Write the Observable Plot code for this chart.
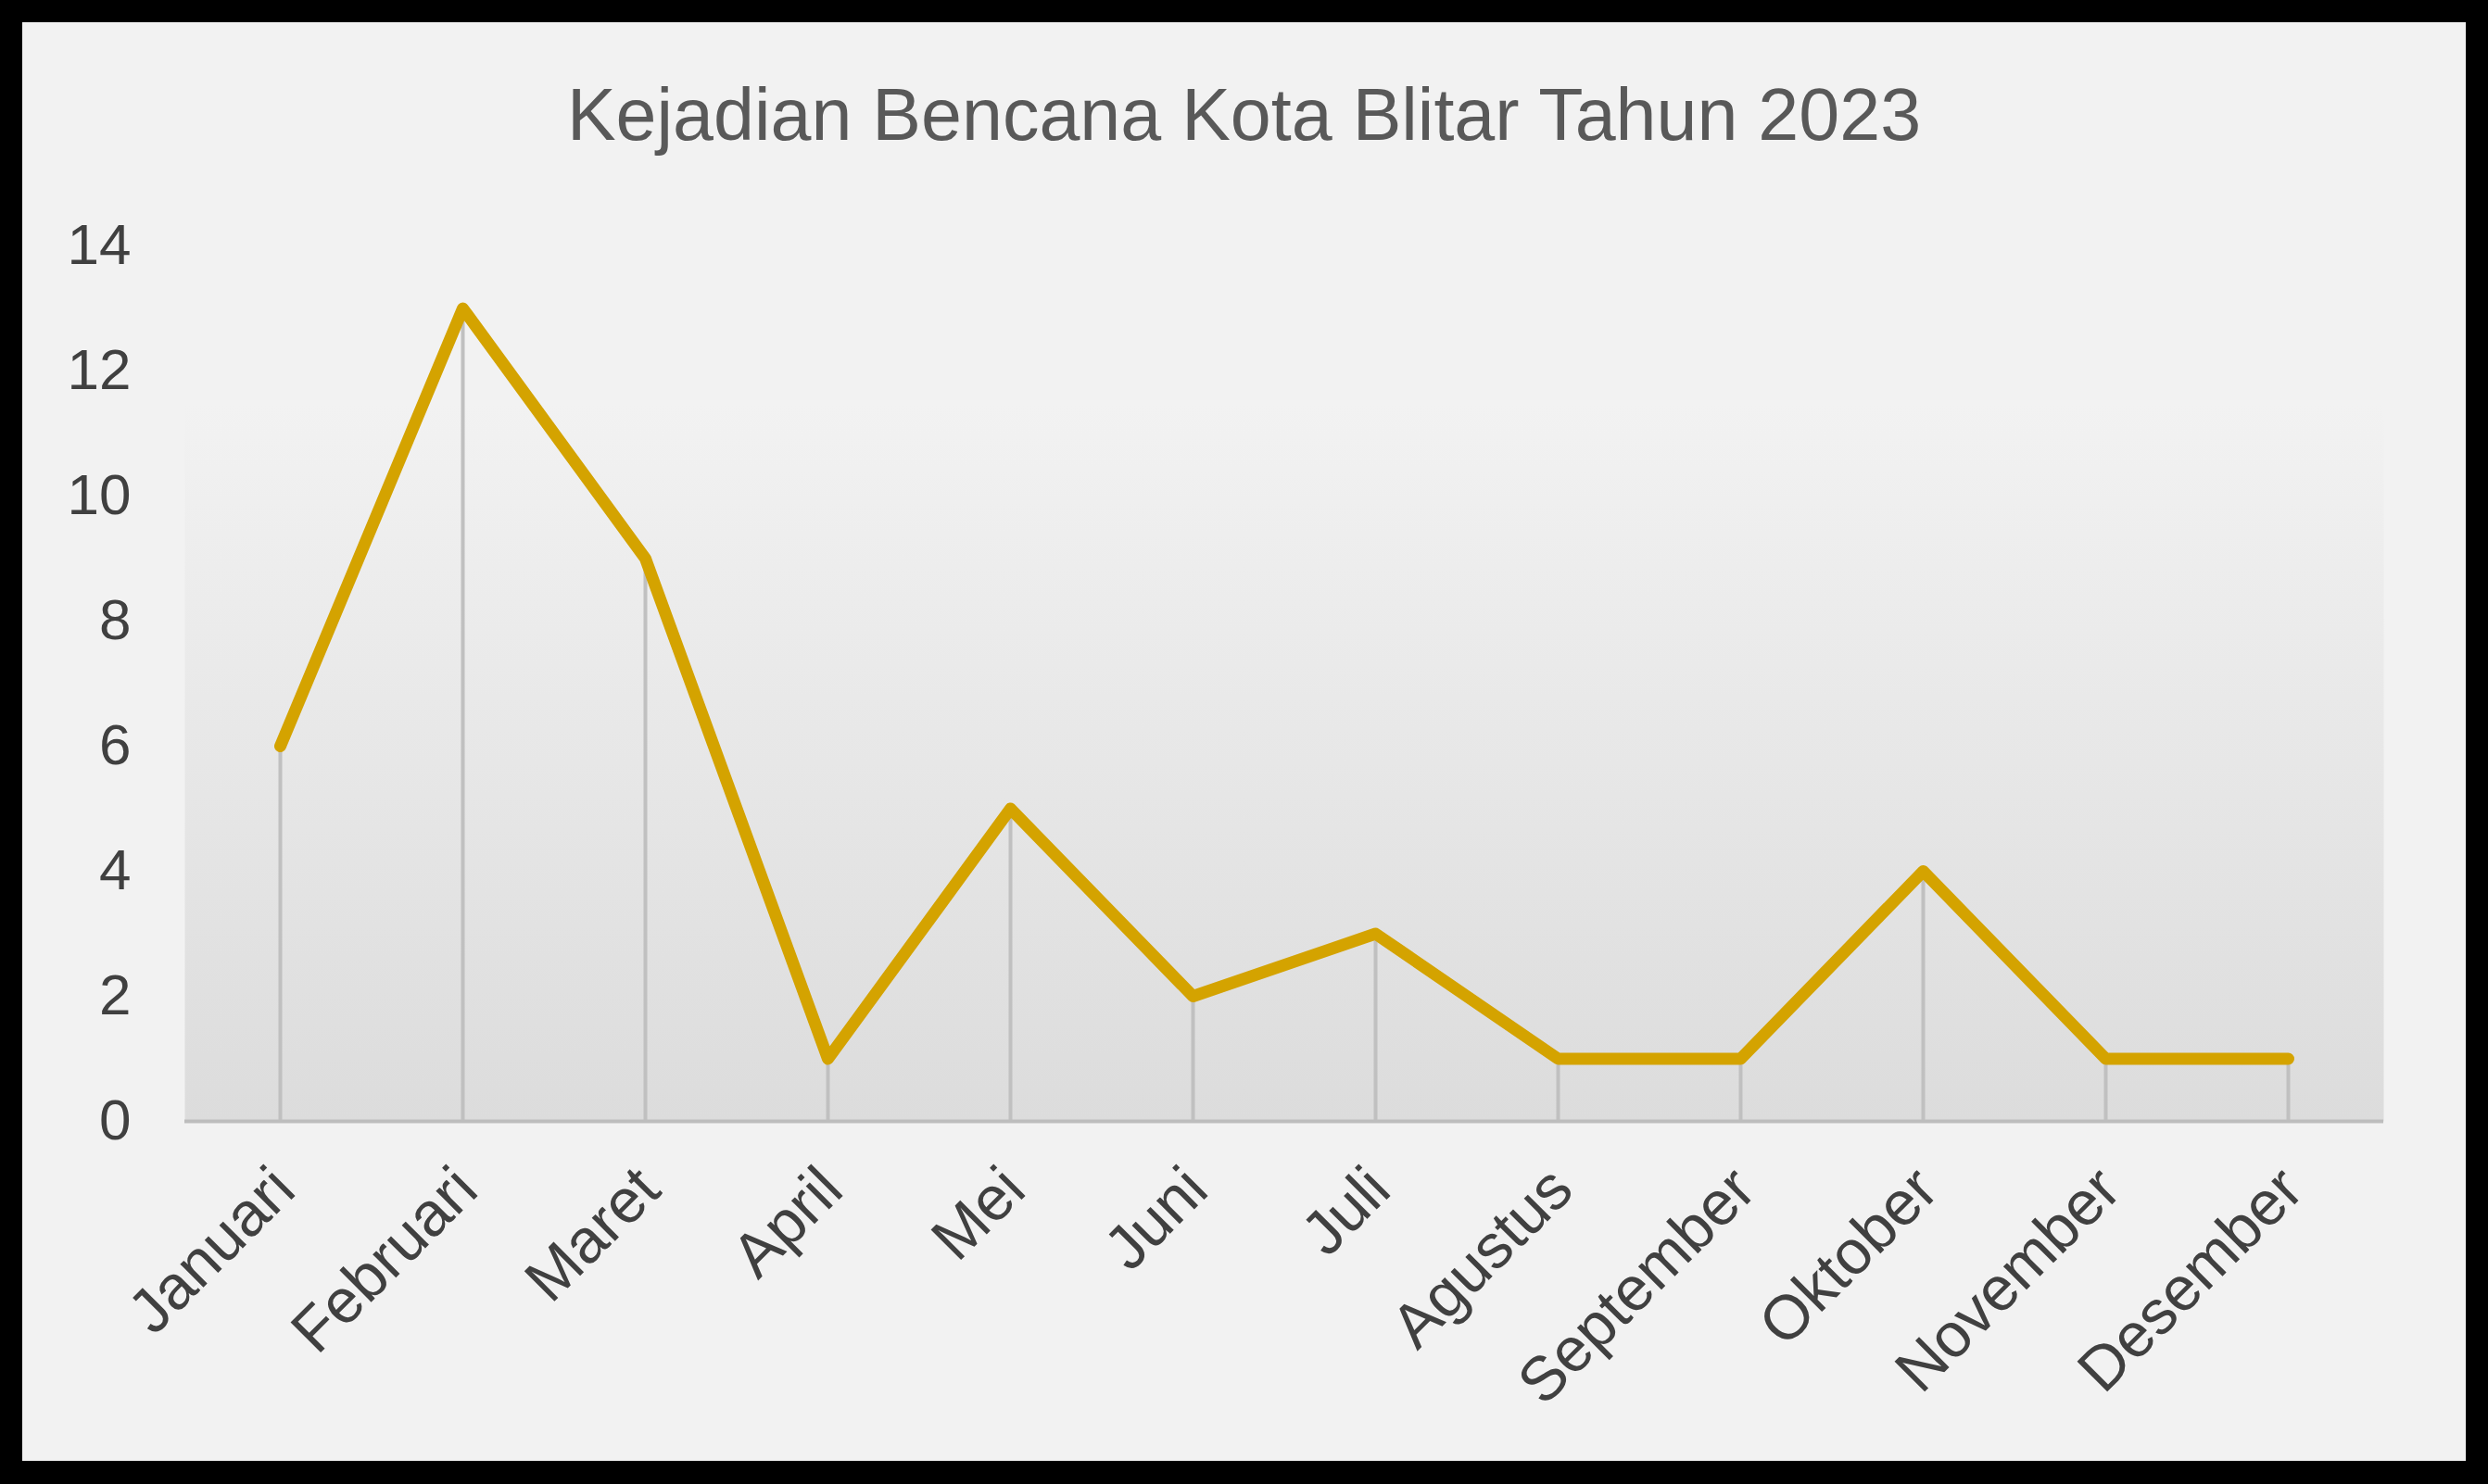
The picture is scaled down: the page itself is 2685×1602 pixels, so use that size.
<!DOCTYPE html>
<html><head><meta charset="utf-8">
<script src="https://cdn.jsdelivr.net/npm/d3@7"></script>
<script src="https://cdn.jsdelivr.net/npm/@observablehq/plot@0.6"></script>
<style>
html,body{margin:0;padding:0;background:#000;width:2685px;height:1602px;overflow:hidden;}
#card{position:absolute;left:24px;top:24px;width:2637px;height:1553px;background:#f2f2f2;font-family:"Liberation Sans",Arial,sans-serif;}
#title{position:absolute;left:0;top:60px;width:100%;text-align:center;font-size:79px;line-height:79px;color:#595959;}
#chart{position:absolute;left:0;top:166px;}
</style></head><body>
<div id="card"><div id="title">Kejadian Bencana Kota Blitar Tahun 2023</div><div id="chart"></div></div>
<script>
const months = ["Januari","Februari","Maret","April","Mei","Juni","Juli","Agustus","September","Oktober","November","Desember"];
const counts = [6, 13, 9, 1, 5, 2, 3, 1, 1, 4, 1, 1];
const yTicks = [0, 2, 4, 6, 8, 10, 12, 14];

const data = months.map((m, i) => ({month: m, count: counts[i]}));

const chart = Plot.plot({
  width: 2637, height: 1387,
  marginLeft: 175, marginRight: 89, marginTop: 75, marginBottom: 367,
  style: {background: "transparent", fontFamily: "Liberation Sans, Arial, sans-serif", color: "#404040"},
  x: {type: "point", domain: months, padding: 0.5, label: null},
  y: {domain: [0, 14], ticks: yTicks, label: null},
  marks: [
    Plot.frame({fill: "#e6e6e6", stroke: "none"}),
    Plot.ruleX(data, {x: "month", y1: 0, y2: "count", stroke: "#c0c0c0", strokeWidth: 4}),
    Plot.ruleY([0], {stroke: "#bdbdbd", strokeWidth: 4}),
    Plot.lineY(data, {x: "month", y: "count", stroke: "#d4a300", strokeWidth: 13, strokeLinejoin: "round", strokeLinecap: "round"}),
    Plot.axisY({ticks: yTicks, tickSize: 0, tickPadding: 58, fontSize: 62, label: null}),
    Plot.axisX({tickSize: 0, tickRotate: -45, tickPadding: 62, dx: 4, fontSize: 67, label: null})
  ]
});

// vertical gradient fill for the plot area
const svg = d3.select(chart);
const defs = svg.insert("defs", ":first-child");
const grad = defs.append("linearGradient").attr("id", "plotgrad").attr("x1", 0).attr("y1", 0).attr("x2", 0).attr("y2", 1);
grad.append("stop").attr("offset", "0%").attr("stop-color", "#f2f2f2");
grad.append("stop").attr("offset", "18%").attr("stop-color", "#f2f2f2");
grad.append("stop").attr("offset", "100%").attr("stop-color", "#dcdcdc");
svg.selectAll('[aria-label="frame"] rect, rect[aria-label="frame"]').attr("fill", "url(#plotgrad)");

document.getElementById("chart").appendChild(chart);
</script>
</body></html>
